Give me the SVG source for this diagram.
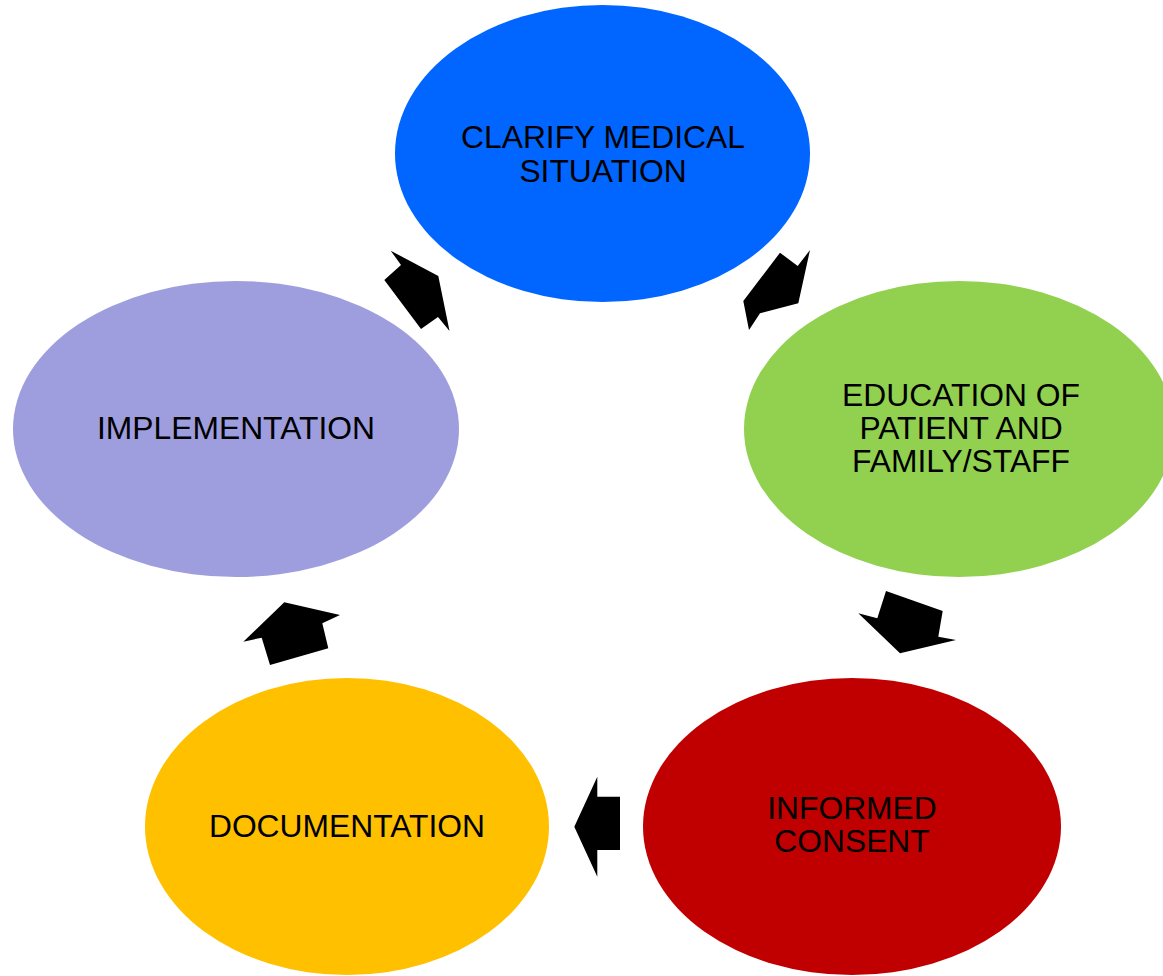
<svg xmlns="http://www.w3.org/2000/svg" width="1163" height="976" viewBox="0 0 1163 976">
  <style>
    .label { font-family: "Liberation Sans", Arial, sans-serif; font-size: 31.8px; fill: #000; text-anchor: middle; }
    .arrow { fill: #000; }
  </style>
  <rect width="1163" height="976" fill="#fff"/>

  <g id="node-clarify">
    <ellipse cx="602.5" cy="153.5" rx="207.5" ry="148.5" fill="#0066ff"/>
    <text class="label" x="603" y="148">CLARIFY MEDICAL</text>
    <text class="label" x="603" y="182">SITUATION</text>
  </g>

  <g id="node-education">
    <ellipse cx="959" cy="429" rx="215" ry="148" fill="#92d050"/>
    <text class="label" x="961" y="406">EDUCATION OF</text>
    <text class="label" x="961" y="439">PATIENT AND</text>
    <text class="label" x="961" y="472">FAMILY/STAFF</text>
  </g>

  <g id="node-consent">
    <ellipse cx="852" cy="826.5" rx="209" ry="148.5" fill="#c00000"/>
    <text class="label" x="852" y="819">INFORMED</text>
    <text class="label" x="852" y="852">CONSENT</text>
  </g>

  <g id="node-documentation">
    <ellipse cx="347" cy="826.5" rx="202" ry="148.5" fill="#ffc000"/>
    <text class="label" x="347" y="837">DOCUMENTATION</text>
  </g>

  <g id="node-implementation">
    <ellipse cx="236" cy="429" rx="223" ry="148" fill="#9e9edf"/>
    <text class="label" x="236" y="439">IMPLEMENTATION</text>
  </g>

  <g id="connectors">
    <polygon class="arrow" points="390.7,250.7 438.3,276 449.5,331 438,317 421,329 384.3,280 401,265"/>
    <polygon class="arrow" points="780,252.7 797.7,266 810,250 798.3,303.3 760,313.3 749,330 743.3,301"/>
    <polygon class="arrow" points="886,591 942.7,611 938.3,636.7 956,640 900,653.3 858.3,613.3 877.3,618.3"/>
    <polygon class="arrow" points="597.3,776.7 597.3,796.7 620,796.7 620,850 597.3,850 597.3,876.7 574.3,826.7"/>
    <polygon class="arrow" points="284.3,602.3 340,615 322.3,623.3 328.3,648.3 270,665 261.7,637.7 243.3,641.7"/>
  </g>
</svg>
